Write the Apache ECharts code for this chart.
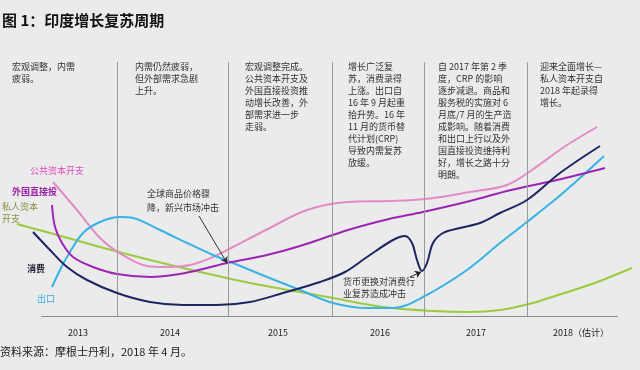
<!DOCTYPE html>
<html><head><meta charset="utf-8">
<script src="https://cdn.jsdelivr.net/npm/echarts@6/dist/echarts.min.js"></script>
<style>html,body{margin:0;padding:0;background:#ebebeb}#c{width:640px;height:370px}</style>
</head><body><div id="c"></div>
<script>
// x: timeline position (0-128), y: relative momentum (0-127)
const years = ['2013', '2014', '2015', '2016', '2017', '2018（估计）'];
const yearPos = [15.6, 34, 55.6, 76, 95.2, 116.2];
const separators = [23.4, 45.6, 66.4, 84.8, 105.4];
const baseline = [8.2, 123.6];

const publicCapex = [[10.6,67],[15.4,53],[20,39],[24.2,31],[29.4,25],[33,24.5],[38,25.5],[42.6,29.5],[46.6,34.5],[53.2,43],[61.4,53],[69.6,57],[77.8,57.5],[85,58.5],[94,62],[101.4,65.5],[106.4,73],[112.8,84.5],[119.4,94.5]];
const fdi = [[10.4,55.5],[11,44.5],[12.4,36.5],[14.6,29.5],[18.6,24.5],[23.4,21],[30,19.5],[36,21],[41.4,24],[45.4,26.5],[53.4,30.5],[60,35],[69.6,43],[77.8,48.5],[84.6,52],[94,57.5],[102.2,63],[111.4,68],[121,74]];
const exportsS = [[10.4,14.5],[12,23],[13.4,29.5],[16.6,41.5],[20,47],[24,49.5],[26.6,49],[32,43],[37.4,36.5],[42.6,30.5],[46.6,26.5],[53.4,19.5],[60,13],[66.6,6.5],[73.4,4],[78.6,4],[84.6,9.5],[93.4,23],[100,36.5],[105.4,47],[111.4,59],[116,69],[120.8,80]];
const consumption = [[6.6,42],[10,33],[13.4,24.5],[17.4,18],[23.4,11.5],[30,7],[36.6,5.5],[43.4,5.5],[50,7],[56.6,11.5],[64,17],[69,22],[73.4,29.5],[78.6,38],[81,40],[82.4,36.5],[83.4,28],[84.4,22.5],[85.4,26.5],[86.6,36.5],[88.6,41.5],[92,44],[96,46.5],[100,51.5],[105.4,58],[112,71.5],[120,85]];
const privateCapex = [[3.4,46],[10,41.5],[20,34.5],[30,28],[40,22],[50,16.5],[60,12],[66.6,9],[76.6,4.5],[86.6,2.5],[94,2],[100,3],[106.6,6.5],[110.4,9.5],[116.6,14.5],[120,17.5],[126.4,24]];

const arrow1 = [[39.8,50],[45.4,26.5]];
const arrow2 = [[82,19.5],[84.2,22]];

const phaseNotes = [
  '宏观调整，内需\n疲弱。',
  '内需仍然疲弱，\n但外部需求急剧\n上升。',
  '宏观调整完成。\n公共资本开支及\n外国直接投资推\n动增长改善，外\n部需求进一步\n走弱。',
  '增长广泛复\n苏，消费录得\n上涨。出口自\n16 年 9 月起重\n拾升势。16 年\n11 月的货币替\n代计划(CRP)\n导致内需复苏\n放缓。',
  '自 2017 年第 2 季\n度，CRP 的影响\n逐步减退。商品和\n服务税的实施对 6\n月底/7 月的生产造\n成影响。随着消费\n和出口上行以及外\n国直接投资维持利\n好，增长之路十分\n明朗。',
  '迎来全面增长—\n私人资本开支自\n2018 年起录得\n增长。'
];
const noteLeft = [12, 135, 245, 348, 438, 540];

const FONT = '"Noto Sans CJK SC", "Noto Sans", sans-serif';
const chart = echarts.init(document.getElementById('c'));

function lineSeries(name, data, color, z) {
  return {
    name, type: 'line', data, smooth: 0.35, showSymbol: false, symbol: 'none',
    lineStyle: { color, width: 2 }, z: z || 3, silent: true, animation: false
  };
}

const graphics = [
  { type: 'text', left: 2, top: 13, style: { text: '图 1：印度增长复苏周期', font: 'bold 15px ' + FONT, fill: '#111' } },
  { type: 'text', left: 0, top: 346, style: { text: '资料来源：摩根士丹利，2018 年 4 月。', font: '11px ' + FONT, fill: '#222' } },
  { type: 'text', left: 30, top: 166, style: { text: '公共资本开支', font: '9px ' + FONT, fill: '#e04cbf' } },
  { type: 'text', left: 12, top: 187, style: { text: '外国直接投', font: 'bold 9px ' + FONT, fill: '#9a1fa8' } },
  { type: 'text', left: 2, top: 201, style: { text: '私人资本\n开支', font: '9px ' + FONT, fill: '#8a9248', lineHeight: 12 } },
  { type: 'text', left: 27, top: 264, style: { text: '消费', font: 'bold 9px ' + FONT, fill: '#1a1a2a' } },
  { type: 'text', left: 37, top: 294, style: { text: '出口', font: '9px ' + FONT, fill: '#36ace0' } },
  { type: 'text', left: 147, top: 187, style: { text: '全球商品价格骤\n降，新兴市场冲击', font: '9px ' + FONT, fill: '#333', lineHeight: 14 } },
  { type: 'text', left: 343, top: 276, style: { text: '货币更换对消费行\n业复苏造成冲击', font: '9px ' + FONT, fill: '#333', lineHeight: 12 } }
];
phaseNotes.forEach((t, i) => {
  graphics.push({ type: 'text', left: noteLeft[i], top: 61, style: { text: t, font: '9px ' + FONT, fill: '#333', lineHeight: 12 } });
});

chart.setOption({
  backgroundColor: '#ebebeb',
  animation: false,
  grid: { left: 0, right: 0, top: 62, bottom: 54 },
  xAxis: {
    type: 'value', min: 0, max: 128,
    axisLine: { show: false }, axisTick: { show: false }, splitLine: { show: false },
    axisLabel: {
      customValues: yearPos,
      formatter: v => { let k = 0; yearPos.forEach((p, i) => { if (Math.abs(p - v) < Math.abs(yearPos[k] - v)) k = i; }); return years[k]; },
      fontSize: 9, color: '#222', margin: 12, fontFamily: FONT
    }
  },
  yAxis: { type: 'value', min: 0, max: 127, show: false },
  graphic: graphics,
  series: [
    {
      type: 'line', data: [[0, 0]], showSymbol: false, lineStyle: { opacity: 0 }, z: 1, silent: true,
      markLine: {
        silent: true, symbol: ['none', 'none'], label: { show: false },
        lineStyle: { color: '#9a9a9a', width: 1, type: 'solid' },
        data: separators.map(v => ({ xAxis: v })).concat([[
          { coord: [baseline[0], 0], lineStyle: { color: '#8a8a8a', width: 1, type: 'solid' } },
          { coord: [baseline[1], 0] }
        ]])
      }
    },
    lineSeries('私人资本开支', privateCapex, '#9bcb3e'),
    lineSeries('公共资本开支', publicCapex, '#e38bc6'),
    lineSeries('出口', exportsS, '#37b3e6'),
    Object.assign(lineSeries('外国直接投资', fdi, '#9d25b4', 4), {
      markLine: {
        silent: true, symbol: ['none', 'arrow'], symbolSize: 6, label: { show: false },
        lineStyle: { color: '#333', width: 1, type: 'solid' },
        data: [
          [{ coord: arrow1[0] }, { coord: arrow1[1] }]
        ]
      }
    }),
    Object.assign(lineSeries('消费', consumption, '#1f2562', 5), {
      markLine: {
        silent: true, symbol: ['none', 'arrow'], symbolSize: 6, label: { show: false },
        lineStyle: { color: '#222', width: 1, type: 'solid' },
        data: [
          [{ coord: arrow2[0] }, { coord: arrow2[1] }]
        ]
      }
    })
  ]
});
</script></body></html>
